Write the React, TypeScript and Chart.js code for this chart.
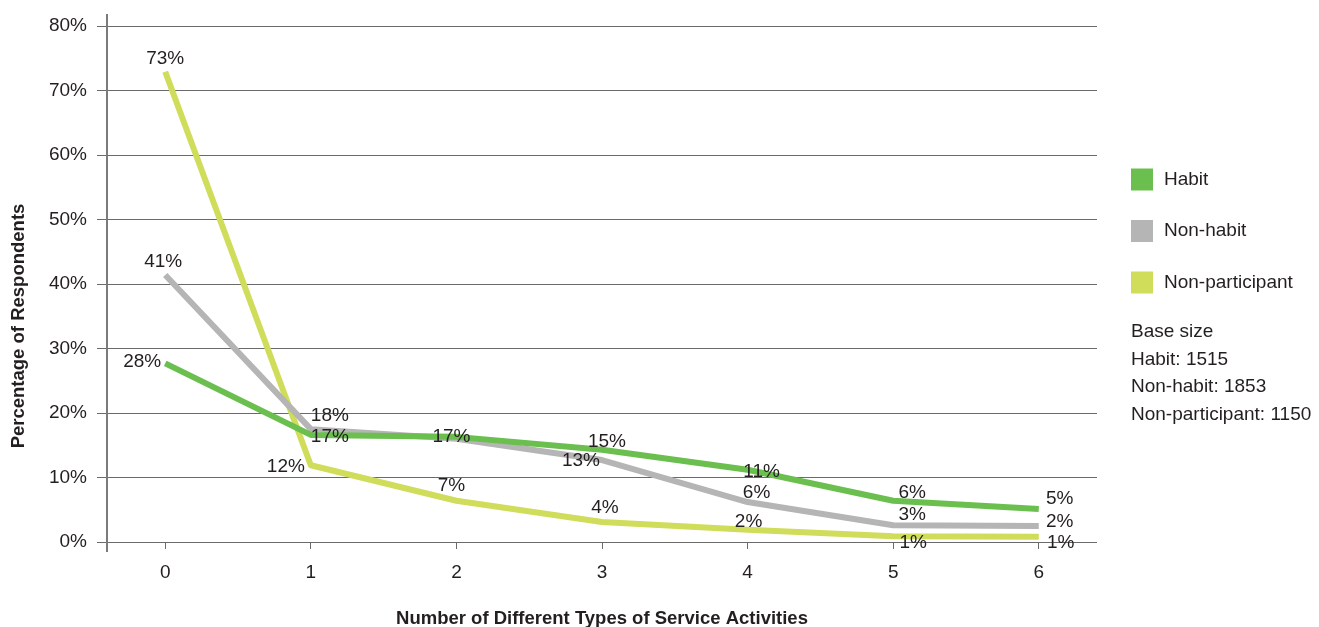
import React, { useEffect, useRef } from 'react';
import { Chart, registerables } from 'chart.js';

Chart.register(...registerables);

// ---------- data ----------
const categories = [0, 1, 2, 3, 4, 5, 6];
const seriesNames = ['Habit', 'Non-habit', 'Non-participant'];
const habit = [27.7, 16.6, 16.3, 14.3, 11.2, 6.4, 5.1];
const nonHabit = [41.4, 17.5, 16.0, 12.7, 6.2, 2.6, 2.5];
const nonParticipant = [72.9, 11.9, 6.4, 3.1, 1.9, 0.9, 0.8];
const habitLabels = ['28%', '17%', '17%', '15%', '11%', '6%', '5%'];
const nonHabitLabels = ['41%', '18%', '', '13%', '6%', '3%', '2%'];
const nonParticipantLabels = ['73%', '12%', '7%', '4%', '2%', '1%', '1%'];
const yMin = 0;
const yMax = 80;
const yStep = 10;
const baseSizeLines = ['Base size', 'Habit: 1515', 'Non-habit: 1853', 'Non-participant: 1150'];
const xTitle = 'Number of Different Types of Service Activities';
const yTitle = 'Percentage of Respondents';

// ---------- style ----------
const FONT = "'Liberation Sans', Arial, Helvetica, sans-serif";
const TEXT = '#231f20';
const colors = ['#6abf4f', '#b5b5b5', '#cfdd5a'];
const labelOffsets: number[][][] = [
  [[-23, -2], [19, 2], [-5, 0], [5, -8], [14, 2], [19, -8], [21, -10]],
  [[-2, -13], [19, -13], [0, 0], [-21, 1], [9, -9], [19, -10], [21, -4]],
  [[0, -13.5], [-25, 1.5], [-5, -15], [3, -14], [1, -8], [20, 7], [22, 6]],
];

const seriesValues = [habit, nonHabit, nonParticipant];
const seriesLabels = [habitLabels, nonHabitLabels, nonParticipantLabels];

const decorPlugin = {
  id: 'decor',
  beforeDatasetsDraw(chart: any) {
    const { ctx, chartArea } = chart;
    ctx.save();
    ctx.strokeStyle = '#7a7a7a';
    ctx.lineWidth = 2;
    ctx.beginPath();
    ctx.moveTo(chartArea.left, chartArea.top - 12);
    ctx.lineTo(chartArea.left, chartArea.bottom + 10);
    ctx.stroke();
    ctx.restore();
  },
  afterDatasetsDraw(chart: any) {
    const { ctx } = chart;
    ctx.save();
    ctx.font = `19px ${FONT}`;
    ctx.fillStyle = TEXT;
    ctx.textAlign = 'center';
    ctx.textBaseline = 'middle';
    seriesLabels.forEach((labels, di) => {
      const meta = chart.getDatasetMeta(di);
      labels.forEach((txt, i) => {
        if (!txt) return;
        const pt = meta.data[i];
        const [dx, dy] = labelOffsets[di][i];
        ctx.fillText(txt, pt.x + dx, pt.y + dy);
      });
    });
    ctx.restore();
  },
  afterDraw(chart: any) {
    const { ctx, chartArea } = chart;
    ctx.save();
    // legend
    const lx = chartArea.right + 34;
    ctx.font = `19px ${FONT}`;
    ctx.textBaseline = 'middle';
    ctx.textAlign = 'left';
    seriesNames.forEach((name, i) => {
      const cy = 179.5 + i * 51.5;
      ctx.fillStyle = colors[i];
      ctx.fillRect(lx, cy - 11, 22, 22);
      ctx.fillStyle = TEXT;
      ctx.fillText(name, lx + 33, cy);
    });
    baseSizeLines.forEach((line, i) => {
      ctx.fillText(line, lx, 332 + i * 27.6);
    });
    // y title
    ctx.font = `bold 18.5px ${FONT}`;
    ctx.textAlign = 'center';
    ctx.translate(19, 326);
    ctx.rotate(-Math.PI / 2);
    ctx.fillText(yTitle, 0, 0);
    ctx.restore();
  },
};

export default function App() {
  const ref = useRef<HTMLCanvasElement>(null);
  useEffect(() => {
    if (!ref.current) return;
    const chart = new Chart(ref.current, {
      type: 'line',
      data: {
        datasets: seriesNames.map((name, di) => ({
          label: name,
          data: categories.map((c, i) => ({ x: c, y: seriesValues[di][i] })),
          borderColor: colors[di],
          backgroundColor: colors[di],
          borderWidth: 6,
          pointRadius: 0,
          tension: 0,
          fill: false,
          borderJoinStyle: 'round' as const,
        })),
      },
      options: {
        responsive: false,
        animation: false,
        layout: { padding: { top: 26, right: 222, bottom: 0, left: 0 } },
        plugins: {
          legend: { display: false },
          tooltip: { enabled: false },
        },
        scales: {
          x: {
            type: 'linear',
            min: categories[0] - 0.4,
            max: categories[categories.length - 1] + 0.4,
            afterFit: (s: any) => { s.height = 85; },
            border: { display: false },
            grid: { drawOnChartArea: false, drawTicks: true, tickLength: 7, color: '#6a6a6a', lineWidth: 1 },
            ticks: {
              stepSize: 1,
              includeBounds: false,
              padding: 12,
              color: TEXT,
              font: { family: FONT, size: 19 },
              callback: (v: any) => String(v),
            },
            title: {
              display: true,
              text: xTitle,
              color: TEXT,
              font: { family: FONT, size: 18.5, weight: 'bold', lineHeight: 1 },
              padding: { top: 0, bottom: -1 },
            },
          },
          y: {
            type: 'linear',
            min: yMin,
            max: yMax,
            afterFit: (s: any) => { s.width = 107; },
            border: { display: false },
            grid: { color: '#6a6a6a', lineWidth: 1, tickLength: 10, drawTicks: true },
            ticks: {
              stepSize: yStep,
              padding: 10,
              color: TEXT,
              font: { family: FONT, size: 19 },
              callback: (v: any) => `${v}%`,
            },
          },
        },
      },
      plugins: [decorPlugin],
    } as any);
    return () => chart.destroy();
  }, []);
  return (
    <div style={{ position: 'absolute', left: 0, top: 0, width: 1319, height: 627, background: '#fff' }}>
      <canvas ref={ref} width={1319} height={627} style={{ display: 'block', width: 1319, height: 627 }} />
    </div>
  );
}
